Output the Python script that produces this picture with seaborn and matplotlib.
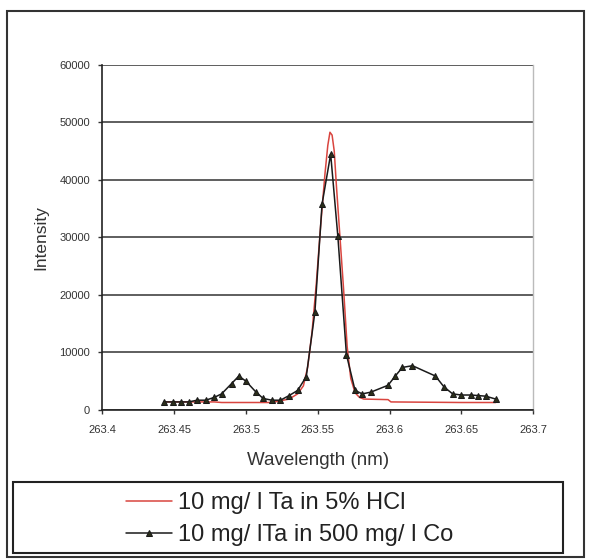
import matplotlib
matplotlib.use("Agg")
import matplotlib.pyplot as plt
import seaborn as sns
import pandas as pd
from matplotlib.patches import Rectangle

# ---- data ----
co_wavelength = [263.443, 263.449, 263.455, 263.460, 263.466, 263.472, 263.478, 263.483,
                 263.490, 263.495, 263.500, 263.507, 263.512, 263.518, 263.524, 263.530,
                 263.536, 263.542, 263.548, 263.553, 263.559, 263.564, 263.570, 263.576,
                 263.581, 263.587, 263.599, 263.604, 263.609, 263.616, 263.632, 263.638,
                 263.644, 263.650, 263.657, 263.662, 263.667, 263.674]
co_intensity = [1400, 1400, 1400, 1400, 1700, 1700, 2200, 2800,
                4600, 5900, 5000, 3100, 2000, 1700, 1700, 2500,
                3400, 5800, 17000, 35800, 44500, 30200, 9600, 3400,
                2800, 3100, 4300, 5900, 7400, 7700, 5900, 4000,
                2800, 2600, 2600, 2500, 2400, 1900]

hcl_wavelength = [263.443, 263.460, 263.478, 263.483, 263.500, 263.518, 263.530, 263.536,
                  263.540, 263.543, 263.546, 263.549, 263.552, 263.555, 263.557, 263.5585,
                  263.560, 263.5615, 263.563, 263.5655, 263.568, 263.5705, 263.573, 263.576,
                  263.579, 263.582, 263.599, 263.601, 263.650, 263.674]
hcl_intensity = [1400, 1400, 1400, 1300, 1300, 1300, 1900, 2800,
                 4200, 7500, 13500, 22000, 32000, 41000, 46000, 48300,
                 47800, 45000, 39000, 30000, 21000, 11000, 5500, 3000,
                 2200, 1900, 1800, 1400, 1300, 1300]

series_labels = ["10 mg/ l Ta in 5% HCl", "10 mg/ lTa in 500 mg/ l Co"]
x_ticks = [263.4, 263.45, 263.5, 263.55, 263.6, 263.65, 263.7]
y_ticks = [0, 10000, 20000, 30000, 40000, 50000, 60000]

df_hcl = pd.DataFrame({"Wavelength": hcl_wavelength, "Intensity": hcl_intensity})
df_co = pd.DataFrame({"Wavelength": co_wavelength, "Intensity": co_intensity})

sns.set_style("white")
plt.rcParams['font.family'] = ['Liberation Sans', 'DejaVu Sans']

fig = plt.figure(figsize=(5.91, 5.60), dpi=100)
ax = fig.add_axes([0.1734, 0.2679, 0.7285, 0.6161])

sns.lineplot(data=df_hcl, x="Wavelength", y="Intensity", ax=ax, color="#d9453f",
             linewidth=1.1, label=series_labels[0], sort=False, zorder=3)
sns.lineplot(data=df_co, x="Wavelength", y="Intensity", ax=ax, color="#1a1a1a",
             linewidth=1.1, marker="^", markersize=4.8, markerfacecolor="#2b2f1a",
             markeredgecolor="#1a1a1a", label=series_labels[1], sort=False, zorder=4)

ax.set_xlim(263.4, 263.7)
ax.set_ylim(0, 60000)
ax.set_xticks(x_ticks)
ax.set_xticklabels([f"{t:g}" for t in x_ticks])
ax.set_yticks(y_ticks)
ax.set_yticklabels([str(t) for t in y_ticks])
ax.tick_params(axis="both", labelsize=8, colors="#333333", length=3, width=1,
               direction="out", bottom=True, left=True)
ax.tick_params(axis="x", pad=8)
ax.tick_params(axis="y", pad=6)
ax.yaxis.grid(True, color="#333333", linewidth=1.1)
ax.xaxis.grid(False)
ax.set_axisbelow(True)
for s in ["left", "bottom"]:
    ax.spines[s].set_color("#222222")
    ax.spines[s].set_linewidth(1.2)
ax.spines["top"].set_visible(False)
ax.spines["right"].set_color("#bbbbbb")
ax.spines["right"].set_linewidth(1)

ax.set_xlabel("Wavelength (nm)", fontsize=13.5, color="#333333", labelpad=12)
ax.set_ylabel("Intensity", fontsize=12.5, color="#333333", labelpad=8)

handles, labels = ax.get_legend_handles_labels()
ax.get_legend().remove()
leg = fig.legend(handles, labels, loc="center left", bbox_to_anchor=(0.212, 0.073),
                 frameon=False, fontsize=17, handlelength=1.95, handletextpad=0.25,
                 labelspacing=0.45, borderaxespad=0, borderpad=0)
# shift so the handle starts at the reference position
leg.set_bbox_to_anchor((126/591, 0.073), transform=fig.transFigure)
for t in leg.get_texts():
    t.set_color("#222222")

# legend box and outer border
fig.patches.append(Rectangle((13/591, 1-553/560), (563-13)/591, (553-482)/560,
                             transform=fig.transFigure, fill=False,
                             edgecolor="#222222", linewidth=1.5))
fig.patches.append(Rectangle((7/591, 1-557/560), (584-7)/591, (557-11)/560,
                             transform=fig.transFigure, fill=False,
                             edgecolor="#333333", linewidth=1.5))

fig.savefig("out.png", dpi=100)
